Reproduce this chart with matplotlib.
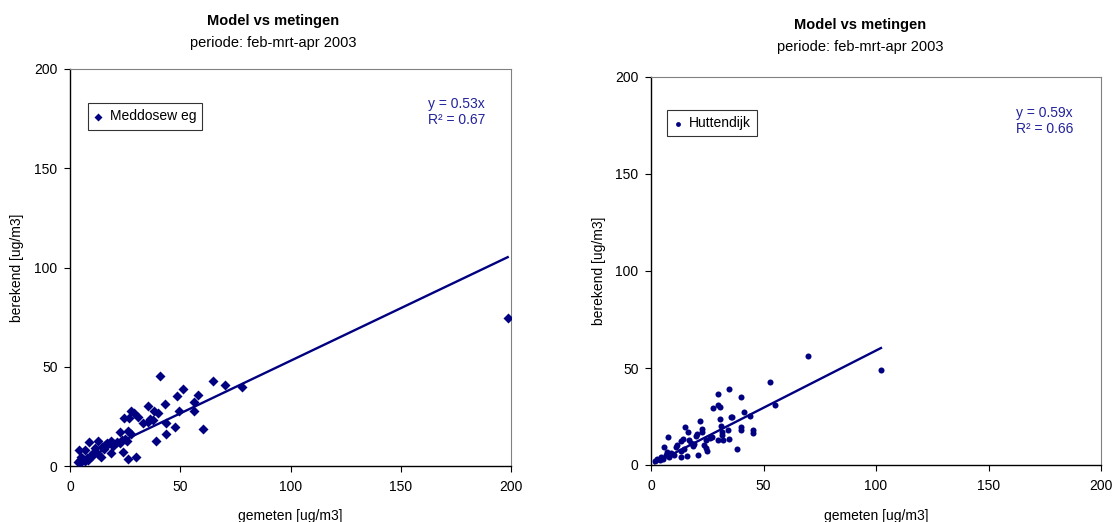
import matplotlib
matplotlib.use("Agg")
import matplotlib.pyplot as plt
import numpy as np

plt.rcParams['font.family'] = ['Liberation Sans', 'DejaVu Sans']

# ---- data ----
title = "Model vs metingen"
subtitle = "periode: feb-mrt-apr 2003"
xlabel = "gemeten [ug/m3]"
ylabel = "berekend [ug/m3]"
ticks = [0, 50, 100, 150, 200]

meddo_name = "Meddosew eg"
meddo_x = [40.9, 65.0, 70.5, 77.8, 51.4, 48.3, 58.1, 56.2, 43.3, 35.3, 49.5, 56.2, 27.7, 29.2,
           38.3, 40.0, 31.0, 24.6, 26.6, 36.5, 33.0, 35.6, 37.7, 43.5, 47.7, 60.2, 22.8, 26.2,
           27.7, 43.6, 39.1, 24.9, 26.0, 18.6, 17.0, 15.8, 12.5, 8.8, 21.3, 22.8, 24.0, 18.6,
           26.2, 29.8, 4.3, 6.7, 10.9, 12.5, 14.0, 10.0, 15.5, 3.8, 4.5, 5.2, 6.0, 6.7, 7.5,
           8.3, 5.0, 9.0, 23.5, 20.0, 14.5, 11.5, 19.5, 198.5]
meddo_y = [45.2, 42.7, 40.7, 40.0, 38.6, 35.2, 35.9, 32.4, 31.0, 30.3, 27.6, 27.6, 27.6, 26.5,
           27.6, 26.8, 24.8, 24.1, 24.1, 23.8, 21.9, 22.4, 23.1, 21.9, 19.8, 18.4, 17.1, 17.7,
           16.3, 16.1, 12.7, 13.8, 12.4, 12.4, 11.7, 10.7, 12.7, 12.1, 12.1, 11.7, 6.9, 6.6,
           3.4, 4.3, 7.9, 8.3, 7.2, 6.0, 4.3, 5.2, 8.6, 2.0, 3.0, 1.8, 3.5, 2.5, 4.0,
           3.0, 4.5, 5.0, 13.0, 11.0, 9.5, 9.0, 10.0, 74.5]
meddo_slope = 0.53
meddo_r2 = 0.67

hutten_name = "Huttendijk"
hutten_x = [69.8, 102.2, 53.1, 54.9, 34.7, 29.9, 40.0, 29.9, 30.5, 27.5, 41.2, 44.2, 36.2, 35.6,
            30.5, 21.6, 15.3, 31.1, 40.1, 40.1, 34.1, 45.2, 45.2, 16.5, 22.8, 20.4, 19.8, 7.6,
            14.2, 13.3, 31.4, 29.6, 34.7, 26.0, 24.6, 16.8, 17.7, 19.2, 18.6, 23.7, 24.3, 25.0,
            11.7, 11.2, 14.7, 13.3, 5.8, 38.3, 20.7, 16.2, 13.5, 10.3, 8.8, 7.3, 6.7, 4.3,
            2.8, 1.6, 5.2, 3.8, 8.2, 22.5, 27.2, 31.6, 32.2]
hutten_y = [56.1, 49.1, 42.9, 30.9, 39.4, 36.6, 35.1, 31.1, 30.0, 29.5, 27.4, 25.2, 24.6, 24.5,
            23.8, 22.7, 19.8, 20.3, 19.6, 18.2, 17.9, 17.9, 16.5, 17.2, 16.8, 15.8, 14.9, 14.4,
            13.4, 12.2, 15.5, 13.0, 13.5, 13.7, 13.0, 12.7, 11.5, 10.6, 9.6, 10.2, 8.9, 7.0,
            10.2, 9.2, 8.5, 7.1, 9.2, 8.5, 5.4, 4.7, 4.3, 5.0, 6.0, 6.9, 5.3, 4.3,
            3.3, 2.3, 3.2, 2.6, 4.3, 18.6, 14.4, 16.8, 12.8]
hutten_slope = 0.59
hutten_r2 = 0.66

NAVY = '#000080'
EQ_COLOR = '#22229c'
FS = 10

W, H = 1113, 522
fig = plt.figure(figsize=(W / 100, H / 100), dpi=100)


def panel(rect, xs, ys, name, marker, msize, slope, r2, title_y, eq_x, eq_y, leg_anchor,
          center_x, ylab_x, xlab_y):
    ax = fig.add_axes(rect)
    ax.scatter(xs, ys, marker=marker, s=msize, color=NAVY, linewidths=0, zorder=3, label=name)
    xl = np.array([min(xs), max(xs)])
    ax.plot(xl, slope * xl, color=NAVY, lw=1.7, zorder=2)
    ax.set_xlim(0, 200)
    ax.set_ylim(0, 200)
    ax.set_xticks(ticks)
    ax.set_yticks(ticks)
    ax.tick_params(direction='out', length=4, width=0.8, labelsize=FS, color='black')
    ax.tick_params(axis='x', pad=6)
    ax.tick_params(axis='y', pad=5)
    ax.spines['top'].set_color('#808080')
    ax.spines['right'].set_color('#808080')
    for s in ['left', 'bottom']:
        ax.spines[s].set_color('black')
        ax.spines[s].set_linewidth(1)
    ax.set_xlabel(xlabel, fontsize=FS)
    ax.set_ylabel(ylabel, fontsize=FS)
    ax.yaxis.set_label_coords(ylab_x, 0.5)
    ax.xaxis.set_label_coords(0.5, xlab_y)
    leg = ax.legend(loc='upper left', bbox_to_anchor=leg_anchor, borderaxespad=0,
                    frameon=True, fancybox=False, edgecolor='black', fontsize=FS,
                    handlelength=0.6, handletextpad=0.5, borderpad=0.45, markerscale=0.8)
    leg.get_frame().set_linewidth(0.8)
    ax.text(eq_x, eq_y, f"y = {slope:.2f}x\nR² = {r2:.2f}", transform=ax.transAxes,
            ha='right', va='top', color=EQ_COLOR, fontsize=FS, linespacing=1.2)
    fig.text(center_x / W, 1 - title_y / H, title, ha='center', va='center',
             fontsize=10.5, fontweight='bold')
    fig.text(center_x / W, 1 - (title_y + 21.5) / H, subtitle, ha='center', va='center',
             fontsize=10.5)
    return ax


panel([70 / W, 1 - 466 / H, 441 / W, 397 / H], meddo_x, meddo_y, meddo_name, 'D', 26,
      meddo_slope, meddo_r2, 21, 0.941, 0.930, (0.041, 0.914), 273, -0.104, -0.108)
panel([651 / W, 1 - 465 / H, 450 / W, 388 / H], hutten_x, hutten_y, hutten_name, 'o', 19,
      hutten_slope, hutten_r2, 25, 0.938, 0.926, (0.036, 0.915), 860, -0.100, -0.113)

fig.savefig('out.png', dpi=100)
